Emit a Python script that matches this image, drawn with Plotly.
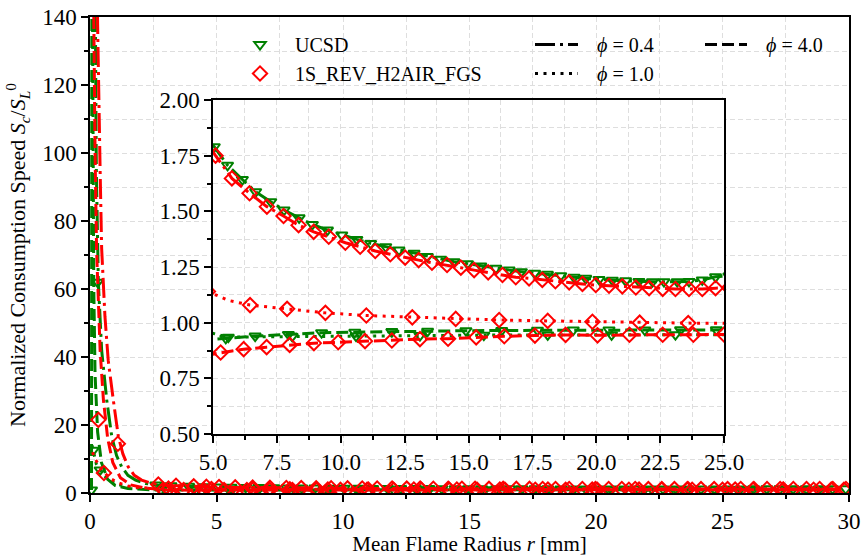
import plotly.graph_objects as go

# ---------------- data ----------------
# Line points for small radii (main axes), r in mm, S_c/S_L^0
r_near_uc04 = [0.17, 0.2, 0.25, 0.33, 0.46, 0.66, 0.86, 1.05, 1.25, 1.5, 1.8, 2.2, 2.7, 3.2, 3.8, 4.4]
s_near_uc04 = [190, 140, 95, 62, 42, 27.4, 16.6, 11.0, 7.7, 5.2, 3.8, 2.8, 2.3, 2.1, 1.95, 1.86]
r_near_uc10 = [0.08, 0.13, 0.25, 0.4, 0.6, 0.85, 1.1, 1.5, 2.0, 3.0, 4.0]
s_near_uc10 = [14.0, 12.6, 8.5, 6.8, 4.8, 3.4, 2.5, 1.8, 1.4, 1.1, 0.98]
r_near_uc40 = [0.06, 0.08, 0.1, 0.15, 0.2, 0.3, 0.45, 0.7, 1.0, 1.5, 2.2, 3.0, 4.0, 5.0]
s_near_uc40 = [0.9, 220, 140, 60, 35, 18, 9.0, 4.0, 2.2, 1.3, 1.0, 0.9, 0.91, 0.925]
r_near_1s04 = [0.25, 0.3, 0.4, 0.46, 0.59, 0.72, 0.92, 1.12, 1.3, 1.51, 1.75, 2.04, 2.4, 2.7, 3.2, 3.8, 4.4]
s_near_1s04 = [170, 138, 95, 72, 52, 39, 27.4, 16.6, 11.5, 7.7, 5.2, 3.8, 2.9, 2.5, 2.2, 2.0, 1.87]
r_near_1s10 = [0.1, 0.2, 0.33, 0.53, 0.8, 1.1, 1.5, 1.8, 2.5, 3.5, 4.3, 5.0, 5.6]
s_near_1s10 = [12.0, 10.0, 8.5, 6.2, 4.3, 3.0, 2.1, 1.7, 1.4, 1.22, 1.16, 1.13, 1.10]
r_near_1s40 = [0.12, 0.15, 0.2, 0.26, 0.4, 0.53, 0.7, 0.9, 1.2, 1.6, 2.2, 3.0, 4.0, 5.0]
s_near_1s40 = [200, 140, 100, 71.5, 42, 27.4, 16, 9.0, 4.5, 2.4, 1.4, 0.95, 0.84, 0.86]

# Extra marker points at small radii (main axes)
rm_near_uc04 = [0.3, 2.6, 3.2, 3.9, 4.5]
sm_near_uc04 = [62, 2.35, 2.1, 1.95, 1.86]
rm_near_uc10 = [0.13, 0.4, 3.0]
sm_near_uc10 = [12.6, 6.8, 1.1]
rm_near_uc40 = [0.06, 2.8, 4.2]
sm_near_uc40 = [0.9, 0.92, 0.91]
rm_near_1s04 = [1.1, 2.7, 3.4, 4.1, 4.6]
sm_near_1s04 = [14.5, 2.5, 2.15, 1.95, 1.85]
rm_near_1s10 = [0.55, 3.1, 4.8]
sm_near_1s10 = [5.9, 1.28, 1.14]
rm_near_1s40 = [0.33, 2.9, 3.7, 4.5]
sm_near_1s40 = [21.5, 0.97, 0.86, 0.85]

# Points (with markers) for r >= 5 mm
r_uc04 = [5.05, 5.57, 6.15, 6.67, 7.26, 7.78, 8.37, 8.89, 9.48, 10.04, 10.63, 11.17, 11.76, 12.28,
          12.87, 13.39, 13.91, 14.43, 14.96, 15.48, 16.07, 16.59, 17.07, 17.59, 18.09, 18.61, 19.13,
          19.59, 20.11, 20.63, 21.15, 21.67, 22.2, 22.65, 23.17, 23.63, 24.15, 24.67, 25.19, 25.71,
          26.23, 26.75, 27.27, 27.79, 28.31, 28.83, 29.35, 29.87]
s_uc04 = [1.79, 1.707, 1.643, 1.588, 1.543, 1.506, 1.471, 1.441, 1.416, 1.394, 1.374, 1.356, 1.341, 1.326,
          1.312, 1.297, 1.285, 1.274, 1.265, 1.255, 1.244, 1.236, 1.229, 1.222, 1.217, 1.211, 1.204,
          1.199, 1.194, 1.191, 1.188, 1.185, 1.184, 1.184, 1.184, 1.185, 1.192, 1.206, 1.21, 1.212,
          1.214, 1.215, 1.216, 1.217, 1.218, 1.219, 1.22, 1.22]
r_uc10 = [5.6, 8.1, 10.6, 13.1, 15.6, 18.1, 20.6, 23.1, 25.6, 28.1]
s_uc10 = [0.935, 0.938, 0.94, 0.942, 0.944, 0.945, 0.945, 0.946, 0.946, 0.946]
r_uc40 = [5.5, 6.65, 7.95, 9.25, 10.55, 12.0, 13.4, 14.9, 16.3, 17.7, 19.1, 20.5, 21.9, 23.3, 24.7,
          26.1, 27.5, 28.9]
s_uc40 = [0.93, 0.94, 0.947, 0.955, 0.957, 0.96, 0.962, 0.964, 0.965, 0.966, 0.967, 0.967, 0.967,
          0.968, 0.968, 0.968, 0.969, 0.969]
r_1s04 = [5.1, 5.74, 6.43, 7.11, 7.76, 8.35, 8.94, 9.53, 10.18, 10.76, 11.35, 11.94, 12.52, 13.05,
          13.57, 14.16, 14.7, 15.22, 15.77, 16.33, 16.85, 17.37, 17.89, 18.4, 18.94, 19.46, 19.98,
          20.5, 21.02, 21.55, 22.07, 22.6, 23.1, 23.63, 24.15, 24.67, 25.2, 25.72, 26.24, 26.76,
          27.28, 27.8, 28.32, 28.84, 29.36, 29.88]
s_1s04 = [1.75, 1.648, 1.581, 1.521, 1.479, 1.438, 1.408, 1.386, 1.359, 1.341, 1.322, 1.307, 1.292, 1.281,
          1.269, 1.259, 1.247, 1.236, 1.226, 1.214, 1.204, 1.199, 1.192, 1.186, 1.181, 1.174, 1.169,
          1.166, 1.163, 1.158, 1.155, 1.152, 1.151, 1.151, 1.151, 1.155, 1.157, 1.158, 1.159, 1.16,
          1.16, 1.161, 1.161, 1.162, 1.162, 1.162]
r_1s10 = [6.45, 7.9, 9.4, 11.0, 12.8, 14.5, 16.2, 18.1, 19.85, 21.7, 23.6, 25.5, 27.4, 29.3]
s_1s10 = [1.079, 1.062, 1.044, 1.032, 1.024, 1.017, 1.012, 1.008, 1.004, 1.0, 0.998, 0.997, 0.996, 0.995]
r_1s40 = [5.3, 6.2, 7.1, 8.0, 8.95, 9.9, 10.95, 12.0, 13.1, 14.2, 15.3, 16.4, 17.6, 18.8, 20.05,
          21.3, 22.6, 23.8, 25.0, 26.2, 27.4, 28.6, 29.8]
s_1s40 = [0.866, 0.881, 0.89, 0.9, 0.908, 0.912, 0.917, 0.92, 0.926, 0.928, 0.934, 0.939, 0.942,
          0.945, 0.943, 0.946, 0.946, 0.946, 0.947, 0.948, 0.948, 0.949, 0.949]

mech_labels = ["UCSD", "1S_REV_H2AIR_FGS"]
phi_labels = ["<i>ϕ</i> = 0.4", "<i>ϕ</i> = 1.0", "<i>ϕ</i> = 4.0"]

# ---------------- styling ----------------
FONT = "Liberation Serif"
TICK_SIZE = 23
TEXT_SIZE = 21
GREEN = "#008000"
RED = "#ff0000"
LW = 3
DASHES = ["20px,5px,3px,5px", "3px,5.5px", "12px,5px"]
SYMBOLS = ["triangle-down-open", "diamond-open"]
MSIZE = [10, 11]
COLORS = [GREEN, RED]
GRID = "#dedede"

curves = [
    (0, 0, r_near_uc04, s_near_uc04, rm_near_uc04, sm_near_uc04, r_uc04, s_uc04),
    (0, 1, r_near_uc10, s_near_uc10, rm_near_uc10, sm_near_uc10, r_uc10, s_uc10),
    (0, 2, r_near_uc40, s_near_uc40, rm_near_uc40, sm_near_uc40, r_uc40, s_uc40),
    (1, 0, r_near_1s04, s_near_1s04, rm_near_1s04, sm_near_1s04, r_1s04, s_1s04),
    (1, 1, r_near_1s10, s_near_1s10, rm_near_1s10, sm_near_1s10, r_1s10, s_1s10),
    (1, 2, r_near_1s40, s_near_1s40, rm_near_1s40, sm_near_1s40, r_1s40, s_1s40),
]

fig = go.Figure()

for xa, ya in (("x", "y"), ("x2", "y2")):
    for m, p, rn, sn, rmn, smn, rf, sf in curves:
        fig.add_trace(go.Scatter(
            x=rn + rf, y=sn + sf, mode="lines", xaxis=xa, yaxis=ya, showlegend=False,
            line=dict(color=COLORS[m], width=LW, dash=DASHES[p]), hoverinfo="skip"))
        fig.add_trace(go.Scatter(
            x=rmn + rf, y=smn + sf, mode="markers", xaxis=xa, yaxis=ya, showlegend=False,
            marker=dict(symbol=SYMBOLS[m], size=MSIZE[m], color=COLORS[m],
                        line=dict(color=COLORS[m], width=2)), hoverinfo="skip"))

# legend entries
for m in range(2):
    fig.add_trace(go.Scatter(
        x=[None], y=[None], mode="markers", name=mech_labels[m], legend="legend",
        marker=dict(symbol=SYMBOLS[m], size=MSIZE[m], color=COLORS[m],
                    line=dict(color=COLORS[m], width=2))))
for p in range(3):
    fig.add_trace(go.Scatter(
        x=[None], y=[None], mode="lines", name="\u2002\u2009" + phi_labels[p],
        legend="legend2" if p < 2 else "legend3",
        line=dict(color="black", width=LW, dash=DASHES[p])))

W, H = 863, 556
L, R, T, B = 90, 14, 17, 63
pw, ph = W - L - R, H - T - B


def px_x(v):
    return (v - L) / pw


def px_y(v):
    return (H - B - v) / ph


axis_common = dict(
    showline=True, linecolor="black", linewidth=1.5, mirror=True,
    ticks="outside", ticklen=7, tickwidth=1.5, tickcolor="black",
    showgrid=True, gridcolor=GRID, gridwidth=1, griddash="5px,3px",
    zeroline=False, automargin=False,
    tickfont=dict(family=FONT, size=TICK_SIZE, color="black"),
)
minor_common = dict(ticklen=4, tickwidth=1.5, tickcolor="black", ticks="outside",
                    showgrid=True, gridcolor=GRID, griddash="5px,3px")
legend_common = dict(xanchor="left", yanchor="top", bgcolor="rgba(0,0,0,0)",
                     font=dict(family=FONT, size=20), tracegroupgap=0)

fig.update_layout(
    width=W, height=H,
    margin=dict(l=L, r=R, t=T, b=B, autoexpand=False),
    paper_bgcolor="white", plot_bgcolor="white",
    font=dict(family=FONT, size=TEXT_SIZE, color="black"),
    xaxis=dict(domain=[0, 1], anchor="y", range=[0, 30], dtick=5, tick0=0,
               minor=dict(dtick=2.5, **minor_common),
               title=dict(text="Mean Flame Radius <i>r</i> [mm]",
                          font=dict(family=FONT, size=TEXT_SIZE), standoff=6),
               **axis_common),
    yaxis=dict(domain=[0, 1], anchor="x", range=[0, 140], dtick=20, tick0=0,
               minor=dict(dtick=10, **minor_common),
               title=dict(text="Normalized Consumption Speed <i>S<sub>c</sub></i>/<i>S</i><sub><i>L</i></sub><sup>0</sup>",
                          font=dict(family=FONT, size=22), standoff=10),
               **axis_common),
    xaxis2=dict(domain=[px_x(213), px_x(724)], anchor="y2", range=[5, 25], dtick=2.5, tick0=5,
                tickformat=".1f", minor=dict(dtick=1.25, **minor_common), **axis_common),
    yaxis2=dict(domain=[px_y(434), px_y(100)], anchor="x2", range=[0.5, 2.0], dtick=0.25, tick0=0.5,
                tickformat=".2f", minor=dict(dtick=0.125, **minor_common), **axis_common),
    shapes=[dict(type="rect", xref="x2 domain", yref="y2 domain", x0=0, x1=1, y0=0, y1=1,
                 fillcolor="white", line=dict(width=0), layer="below")],
    legend=dict(x=px_x(225), y=px_y(25), itemwidth=60, **legend_common),
    legend2=dict(x=px_x(530), y=px_y(25), itemwidth=43, **legend_common),
    legend3=dict(x=px_x(700), y=px_y(25), itemwidth=42, **legend_common),
)

fig.write_html("out.html")
